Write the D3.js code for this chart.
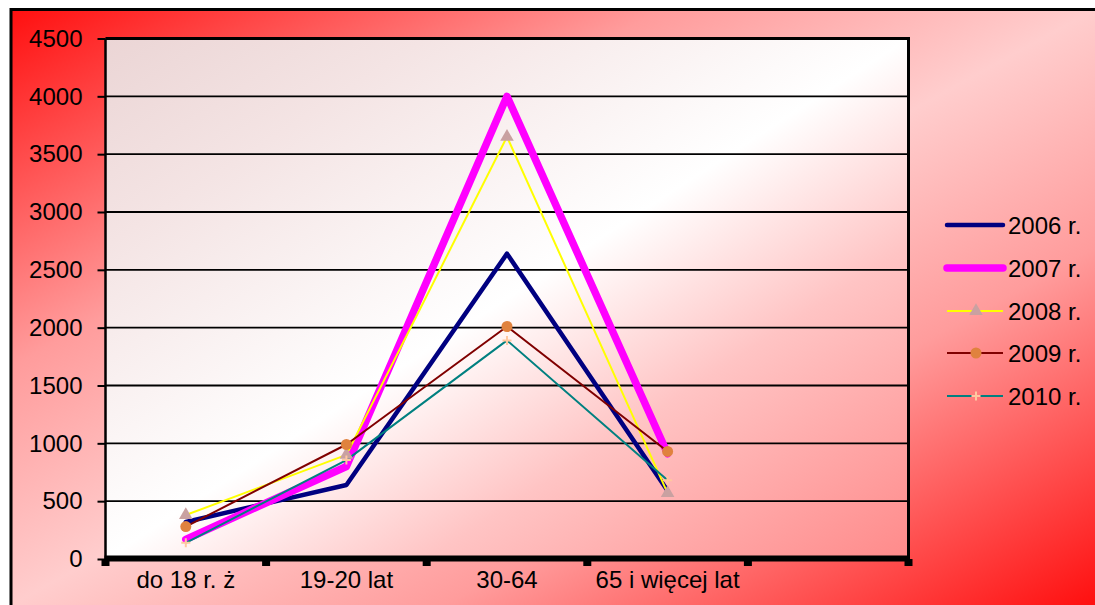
<!DOCTYPE html>
<html><head><meta charset="utf-8">
<script src="https://cdn.jsdelivr.net/npm/d3@7"></script>
<style>html,body{margin:0;padding:0;background:#fff;}svg{display:block;}</style>
</head><body>
<script>
const categories = ["do 18 r. ż", "19-20 lat", "30-64", "65 i więcej lat", ""];
const seriesNames = ["2006 r.", "2007 r.", "2008 r.", "2009 r.", "2010 r."];
const v2006 = [320, 640, 2640, 590];
const v2007 = [170, 800, 4000, 910];
const v2008 = [380, 900, 3650, 570];
const v2009 = [280, 990, 2010, 930];
const v2010 = [140, 855, 1890, 680];
const yTicks = [0, 500, 1000, 1500, 2000, 2500, 3000, 3500, 4000, 4500];

const seriesData = [v2006, v2007, v2008, v2009, v2010];
const styles = [
  {color: "#000080", width: 4.5, marker: null},
  {color: "#ff00ff", width: 7.5, marker: null},
  {color: "#ffff00", width: 2, marker: "triangle", mcolor: "#c9a1a1"},
  {color: "#800000", width: 2, marker: "circle", mcolor: "#e0823e"},
  {color: "#008080", width: 2, marker: "plus", mcolor: "#ffc8a0"}
];
const FONT = "'Liberation Sans', Arial, sans-serif";
const FS = 24;

const W = 1095, H = 605;
const svg = d3.select("body").append("svg").attr("width", W).attr("height", H);
const defs = svg.append("defs");

const og = defs.append("linearGradient").attr("id", "outerG")
  .attr("x1", 0).attr("y1", 0).attr("x2", 1).attr("y2", 1);
[[0, "#ff0f0f"], [0.3, "#ff9c9c"], [0.5, "#ffcdcd"], [0.7, "#ff9c9c"], [1, "#ff0f0f"]]
  .forEach(s => og.append("stop").attr("offset", s[0]).attr("stop-color", s[1]));

const pg = defs.append("linearGradient").attr("id", "plotG")
  .attr("x1", 0).attr("y1", 0).attr("x2", 1).attr("y2", 1);
[[0, "#ebd5d5"], [0.2, "#f4e4e4"], [0.5, "#ffffff"], [0.7, "#ffc4c4"], [1, "#ff8a8a"]]
  .forEach(s => pg.append("stop").attr("offset", s[0]).attr("stop-color", s[1]));

// outer background + frame
svg.append("rect").attr("x", 11).attr("y", 9.5).attr("width", W - 11).attr("height", H - 9.5)
  .attr("fill", "url(#outerG)");
svg.append("line").attr("x1", 11).attr("x2", W).attr("y1", 9.5).attr("y2", 9.5)
  .attr("stroke", "#000").attr("stroke-width", 3);
svg.append("line").attr("x1", 11).attr("x2", 11).attr("y1", 8).attr("y2", H)
  .attr("stroke", "#000").attr("stroke-width", 3);

const pLeft = 105.5, pRight = 908.5, pTop = 38.5, pBottom = 559;
const x = d3.scaleBand().domain(categories).range([pLeft, pRight]).padding(0);
const y = d3.scaleLinear().domain([0, 4500]).range([pBottom, pTop]);

svg.append("rect").attr("x", pLeft).attr("y", pTop).attr("width", pRight - pLeft).attr("height", pBottom - pTop)
  .attr("fill", "url(#plotG)");

// gridlines
svg.append("g").selectAll("line").data(yTicks.filter(d => d > 0 && d < 4500)).join("line")
  .attr("x1", pLeft).attr("x2", pRight).attr("y1", d => y(d)).attr("y2", d => y(d))
  .attr("stroke", "#000").attr("stroke-width", 1.8);

// plot border top/right
svg.append("line").attr("x1", pLeft).attr("x2", pRight + 1.5).attr("y1", pTop).attr("y2", pTop)
  .attr("stroke", "#000").attr("stroke-width", 3);
svg.append("line").attr("x1", pRight).attr("x2", pRight).attr("y1", pTop).attr("y2", pBottom)
  .attr("stroke", "#000").attr("stroke-width", 3);

// y axis
const yAxis = d3.axisLeft(y).tickValues(yTicks).tickSize(8).tickPadding(15).tickFormat(d3.format("d"));
const ya = svg.append("g").attr("transform", `translate(${pLeft},0)`).call(yAxis);
ya.select(".domain").attr("stroke", "#000").attr("stroke-width", 2.5).attr("d", `M0,${pTop}V${pBottom}`);
ya.selectAll(".tick line").attr("stroke", "#000").attr("stroke-width", 2);
ya.selectAll("text").attr("font-family", FONT).attr("font-size", FS).attr("fill", "#000");

// x axis
const xAxis = d3.axisBottom(x).tickSize(0).tickPadding(11);
const xa = svg.append("g").attr("transform", `translate(0,${pBottom})`).call(xAxis);
xa.select(".domain").remove();
xa.selectAll(".tick line").remove();
xa.selectAll("text").attr("font-family", FONT).attr("font-size", FS).attr("fill", "#000").attr("dy", "0.75em");
svg.append("line").attr("x1", pLeft - 1).attr("x2", pRight + 1.5).attr("y1", pBottom - 0.5).attr("y2", pBottom - 0.5)
  .attr("stroke", "#000").attr("stroke-width", 6);
const bounds = categories.map(c => x(c)).concat([x(categories[categories.length - 1]) + x.bandwidth()]);
svg.append("g").selectAll("rect").data(bounds).join("rect")
  .attr("x", d => d - 4).attr("y", pBottom).attr("width", 8).attr("height", 7).attr("fill", "#000");

// lines
const line = d3.line().x((d, i) => x(categories[i]) + x.bandwidth() / 2).y(d => y(d));
const lg = svg.append("g");
seriesData.forEach((s, k) => {
  lg.append("path").attr("d", line(s)).attr("fill", "none")
    .attr("stroke", styles[k].color).attr("stroke-width", styles[k].width)
    .attr("stroke-linejoin", "round").attr("stroke-linecap", "round");
});

function drawMarker(g, type, cx, cy, col) {
  if (type === "triangle") {
    g.append("path").attr("d", d3.symbol(d3.symbolTriangle, 80)()).attr("transform", `translate(${cx},${cy})`)
      .attr("fill", col);
  } else if (type === "circle") {
    g.append("circle").attr("cx", cx).attr("cy", cy).attr("r", 5.5).attr("fill", col);
  } else if (type === "plus") {
    g.append("path").attr("d", `M${cx - 4.5},${cy}H${cx + 4.5}M${cx},${cy - 4.5}V${cy + 4.5}`)
      .attr("stroke", col).attr("stroke-width", 2);
  }
}
seriesData.forEach((s, k) => {
  if (!styles[k].marker) return;
  s.forEach((v, i) => drawMarker(lg, styles[k].marker, x(categories[i]) + x.bandwidth() / 2, y(v), styles[k].mcolor));
});

// legend
const legY = [225, 268, 311, 353, 396];
const leg = svg.append("g");
seriesNames.forEach((n, k) => {
  const st = styles[k];
  leg.append("line").attr("x1", 947).attr("x2", 1003).attr("y1", legY[k]).attr("y2", legY[k])
    .attr("stroke", st.color).attr("stroke-width", st.width).attr("stroke-linecap", k < 2 ? "round" : "butt");
  if (st.marker) drawMarker(leg, st.marker, 976, legY[k], st.mcolor);
  leg.append("text").attr("x", 1008).attr("y", legY[k]).attr("dy", "0.36em")
    .attr("font-family", FONT).attr("font-size", FS).attr("fill", "#000").text(n);
});
</script>
</body></html>
